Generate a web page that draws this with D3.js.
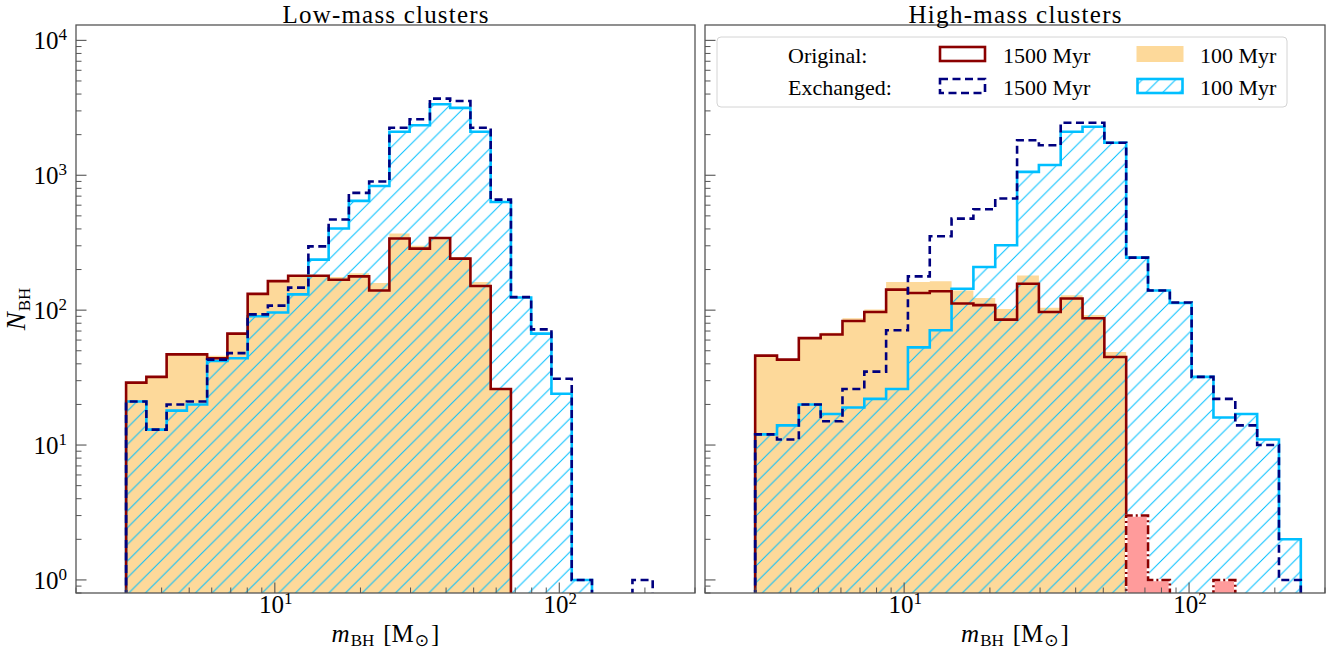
<!DOCTYPE html>
<html>
<head>
<meta charset="utf-8">
<script src="https://cdn.jsdelivr.net/npm/d3@7"></script>
<style>
  body { margin: 0; background: #fff; }
  svg { display: block; }
  text { font-family: "Liberation Serif", "Times New Roman", "DejaVu Serif", serif; fill: #000; }
</style>
</head>
<body>
<svg id="chart" width="1336" height="655"></svg>
<script>
// Logarithmic bin edges (M_sun) of the two histograms
const lowBinEdges = [3.000, 3.535, 4.165, 4.907, 5.782, 6.812, 8.026, 9.453, 11.14, 13.12, 15.46, 18.21,
  21.46, 25.28, 29.78, 35.09, 41.34, 48.71, 57.39, 67.61, 79.65, 93.85, 110.6, 130.3, 153.5, 180.8, 213.0];
const highBinEdges = [3.000, 3.579, 4.269, 5.093, 6.075, 7.247, 8.644, 10.31, 12.30, 14.67, 17.50, 20.88,
  24.91, 29.71, 35.44, 42.28, 50.43, 60.16, 71.77, 85.61, 102.1, 121.8, 145.3, 173.4, 206.8, 246.7];

// Low-mass clusters: black-hole counts per bin
const lowOriginal1500  = [29, 32, 47, 47, 44, 67, 132, 164, 180, 180, 168, 178, 140, 340, 286, 343, 241, 151, 26, 0, 0, 0, 0, 0, 0, 0];
const lowOriginal100   = [29, 32, 47, 47, 46, 67, 133, 166, 182, 182, 176, 188, 159, 370, 300, 349, 248, 162, 26, 0, 0, 0, 0, 0, 0, 0];
const lowExchanged1500 = [21, 13, 20, 21, 43, 48, 93, 108, 147, 297, 470, 740, 900, 2250, 2600, 3700, 3550, 2250, 660, 125, 72, 31, 1, 0, 0, 1];
const lowExchanged100  = [21, 13, 18, 20, 42, 44, 90, 96, 131, 237, 403, 646, 833, 2100, 2350, 3360, 3160, 2100, 634, 124, 67, 24, 1, 0, 0, 0];

// High-mass clusters: black-hole counts per bin
const highOriginal1500  = [46, 43, 62, 66, 83, 97, 142, 134, 138, 112, 109, 85, 157, 97, 122, 87, 45, 0, 0, 0, 0, 0, 0, 0, 0];
const highOriginal100   = [46, 43, 63, 68, 87, 101, 162, 162, 164, 140, 123, 102, 181, 104, 129, 92, 49, 0, 0, 0, 0, 0, 0, 0, 0];
const highExchanged1500 = [12, 11, 20, 15, 26, 35, 71, 178, 353, 477, 560, 672, 1820, 1670, 2450, 2450, 1740, 245, 140, 114, 32, 22, 14, 10, 1];
const highExchanged100  = [12, 14, 20, 17, 19, 22, 26, 53, 71, 144, 209, 303, 1060, 1190, 2100, 2290, 1740, 245, 140, 113, 32, 16, 17, 11, 2];
const highOriginalTail  = [0, 0, 0, 0, 0, 0, 0, 0, 0, 0, 0, 0, 0, 0, 0, 0, 0, 3, 1, 0, 0, 1, 0, 0, 0];

// Axis settings
const xDomain = [2, 300];
const yDomain = [0.8, 1.3e4];
const yMajorTicks = [1, 10, 100, 1000, 10000];
const yTickExponents = ["0", "1", "2", "3", "4"];
const xMajorTicks = [10, 100];
const xTickExponents = ["1", "2"];
const panelTitles = ["Low-mass clusters", "High-mass clusters"];

const COLORS = {
  origLine: "#8b0000",
  origFill: "#fdd99a",
  exchLine: "#00007f",
  exchEarly: "#00bfff",
  tailFill: "#ff9b9b",
  spine: "#555555"
};

const svg = d3.select("#chart");
const defs = svg.append("defs");

// "/" hatch for the exchanged 100 Myr histogram
const hatchStep = 16.67;
const pat = defs.append("pattern")
  .attr("id", "hatch")
  .attr("patternUnits", "userSpaceOnUse")
  .attr("width", hatchStep).attr("height", hatchStep)
  .attr("y", 5);
pat.append("path")
  .attr("d", `M0,${hatchStep} L${hatchStep},0 M${-hatchStep/2},${hatchStep/2} L${hatchStep/2},${-hatchStep/2} M${hatchStep/2},${hatchStep*1.5} L${hatchStep*1.5},${hatchStep/2}`)
  .attr("stroke", COLORS.exchEarly).attr("stroke-width", 1).attr("fill", "none");

const panels = [
  { left: 76, right: 695, edges: lowBinEdges, orig1500: lowOriginal1500, orig100: lowOriginal100,
    exch1500: lowExchanged1500, exch100: lowExchanged100, tail: null, yLabels: true, titleWidth: 206 },
  { left: 705, right: 1325, edges: highBinEdges, orig1500: highOriginal1500, orig100: highOriginal100,
    exch1500: highExchanged1500, exch100: highExchanged100, tail: highOriginalTail, yLabels: false, titleWidth: 213 }
];
const plotTop = 25, plotBottom = 593;

function supLabel(sel, base, exp, size, supSize, rise) {
  sel.append("tspan").text(base).attr("font-size", size);
  sel.append("tspan").text(exp).attr("font-size", supSize).attr("dy", -rise);
}

// Step outline of a histogram; empty bins fall below the clipped baseline
function stepPoints(edges, counts, x, y, base) {
  const pts = [[x(edges[0]), base]];
  counts.forEach((c, i) => {
    const yy = c > 0 ? y(c) : base;
    pts.push([x(edges[i]), yy], [x(edges[i + 1]), yy]);
  });
  pts.push([x(edges[edges.length - 1]), base]);
  return pts;
}
const line = d3.line();

panels.forEach((p, k) => {
  const x = d3.scaleLog().domain(xDomain).range([p.left, p.right]);
  const y = d3.scaleLog().domain(yDomain).range([plotBottom, plotTop]);
  const base = plotBottom + 30;

  const clipId = "clip" + k;
  defs.append("clipPath").attr("id", clipId)
    .append("rect").attr("x", p.left).attr("y", plotTop)
    .attr("width", p.right - p.left).attr("height", plotBottom - plotTop);

  const g = svg.append("g").attr("clip-path", `url(#${clipId})`);

  // original, 100 Myr (filled)
  g.append("path").attr("d", line(stepPoints(p.edges, p.orig100, x, y, base)) + "Z")
    .attr("fill", COLORS.origFill).attr("stroke", "none");
  // exchanged, 100 Myr (hatched)
  g.append("path").attr("d", line(stepPoints(p.edges, p.exch100, x, y, base)) + "Z")
    .attr("fill", "url(#hatch)").attr("stroke", "none");
  g.append("path").attr("d", line(stepPoints(p.edges, p.exch100, x, y, base)))
    .attr("fill", "none").attr("stroke", COLORS.exchEarly).attr("stroke-width", 2.6);
  // original, 1500 Myr
  g.append("path").attr("d", line(stepPoints(p.edges, p.orig1500, x, y, base)))
    .attr("fill", "none").attr("stroke", COLORS.origLine).attr("stroke-width", 2.6);
  // exchanged, 1500 Myr
  g.append("path").attr("d", line(stepPoints(p.edges, p.exch1500, x, y, base)))
    .attr("fill", "none").attr("stroke", COLORS.exchLine).attr("stroke-width", 2.6)
    .attr("stroke-dasharray", "8,4.5");
  // high-mass tail of the original population
  if (p.tail) {
    const tp = stepPoints(p.edges, p.tail, x, y, base);
    g.append("path").attr("d", line(tp) + "Z").attr("fill", COLORS.tailFill).attr("stroke", "none");
    g.append("path").attr("d", line(tp)).attr("fill", "none").attr("stroke", "#fff").attr("stroke-width", 2.6);
    g.append("path").attr("d", line(tp)).attr("fill", "none").attr("stroke", COLORS.origLine)
      .attr("stroke-width", 2.6).attr("stroke-dasharray", "9,3,2,3");
  }

  // frame
  svg.append("rect").attr("x", p.left).attr("y", plotTop)
    .attr("width", p.right - p.left).attr("height", plotBottom - plotTop)
    .attr("fill", "none").attr("stroke", COLORS.spine).attr("stroke-width", 1.3);

  // y ticks (inward)
  const yMinor = [];
  [0.1, 1, 10, 100, 1000, 10000].forEach(d => { for (let m = 2; m <= 9; m++) { const v = d * m; if (v >= yDomain[0] && v <= yDomain[1]) yMinor.push(v); } });
  svg.append("g").selectAll("line").data(yMinor).join("line")
    .attr("x1", p.left).attr("x2", p.left + 5.5).attr("y1", d => y(d)).attr("y2", d => y(d))
    .attr("stroke", COLORS.spine).attr("stroke-width", 1);
  svg.append("g").selectAll("line").data(yMajorTicks).join("line")
    .attr("x1", p.left).attr("x2", p.left + 10.5).attr("y1", d => y(d)).attr("y2", d => y(d))
    .attr("stroke", COLORS.spine).attr("stroke-width", 1.1);
  if (p.yLabels) {
    yMajorTicks.forEach((v, i) => {
      const t = svg.append("text").attr("x", p.left - 9).attr("y", y(v) + 9).attr("text-anchor", "end");
      supLabel(t, "10", yTickExponents[i], 25, 17, 9);
    });
  }

  // x ticks (inward)
  const xMinor = [];
  [1, 10, 100].forEach(d => { for (let m = 2; m <= 9; m++) { const v = d * m; if (v >= xDomain[0] && v <= xDomain[1]) xMinor.push(v); } });
  svg.append("g").selectAll("line").data(xMinor).join("line")
    .attr("x1", d => x(d)).attr("x2", d => x(d)).attr("y1", plotBottom).attr("y2", plotBottom - 5.5)
    .attr("stroke", COLORS.spine).attr("stroke-width", 1);
  svg.append("g").selectAll("line").data(xMajorTicks).join("line")
    .attr("x1", d => x(d)).attr("x2", d => x(d)).attr("y1", plotBottom).attr("y2", plotBottom - 10.5)
    .attr("stroke", COLORS.spine).attr("stroke-width", 1.1);
  xMajorTicks.forEach((v, i) => {
    const t = svg.append("text").attr("x", x(v) + 1).attr("y", 613).attr("text-anchor", "middle");
    supLabel(t, "10", xTickExponents[i], 25, 17, 9);
  });

  // title, stretched to the panel's title width
  svg.append("text").attr("x", (p.left + p.right) / 2).attr("y", 22.5)
    .attr("text-anchor", "middle").attr("font-size", 25)
    .attr("textLength", p.titleWidth).attr("lengthAdjust", "spacing")
    .text(panelTitles[k]);

  // x label: m_BH [M_sun]
  const xl = svg.append("text").attr("x", (p.left + p.right) / 2).attr("y", 642)
    .attr("text-anchor", "middle").attr("font-size", 25);
  xl.append("tspan").attr("font-style", "italic").text("m");
  xl.append("tspan").attr("font-size", 17).attr("dx", 1).attr("dy", 4).text("BH");
  xl.append("tspan").attr("dx", 9).attr("dy", -4).text("[M");
  xl.append("tspan").attr("font-size", 17).attr("dx", 1).attr("dy", 4).attr("font-family", "DejaVu Sans").text("⊙");
  xl.append("tspan").attr("dx", 2).attr("dy", -4).text("]");
});

// y label: N_BH
const yl = svg.append("text").attr("transform", "translate(25,309) rotate(-90)")
  .attr("text-anchor", "middle").attr("font-size", 27);
yl.append("tspan").attr("font-style", "italic").text("N");
yl.append("tspan").attr("font-size", 17).attr("dx", 1).attr("dy", 5).text("BH");

// legend
const lg = svg.append("g");
lg.append("rect").attr("x", 717).attr("y", 37).attr("width", 570).attr("height", 70)
  .attr("rx", 4).attr("fill", "#fff").attr("fill-opacity", 0.85)
  .attr("stroke", "#d4d4d4").attr("stroke-width", 1);
const rows = [
  { label: "Original:", cy: 54, hatched: false },
  { label: "Exchanged:", cy: 86, hatched: true }
];
rows.forEach(r => {
  lg.append("text").attr("x", 788).attr("y", r.cy + 8.5).attr("font-size", 22).text(r.label);
  lg.append("text").attr("x", 1003).attr("y", r.cy + 8.5).attr("font-size", 22).text("1500 Myr");
  lg.append("text").attr("x", 1200).attr("y", r.cy + 8.5).attr("font-size", 22).text("100 Myr");
  const h1 = lg.append("rect").attr("x", 940).attr("y", r.cy - 7).attr("width", 45).attr("height", 14)
    .attr("fill", "none").attr("stroke-width", 2.6);
  if (r.hatched) {
    h1.attr("stroke", COLORS.exchLine).attr("stroke-dasharray", "8,4.5");
    lg.append("rect").attr("x", 1137.5).attr("y", r.cy - 7).attr("width", 45).attr("height", 14)
      .attr("fill", "url(#hatch)").attr("stroke", COLORS.exchEarly).attr("stroke-width", 2.6);
  } else {
    h1.attr("stroke", COLORS.origLine);
    lg.append("rect").attr("x", 1136.5).attr("y", r.cy - 8).attr("width", 47).attr("height", 16)
      .attr("fill", COLORS.origFill);
  }
});
</script>
</body>
</html>
